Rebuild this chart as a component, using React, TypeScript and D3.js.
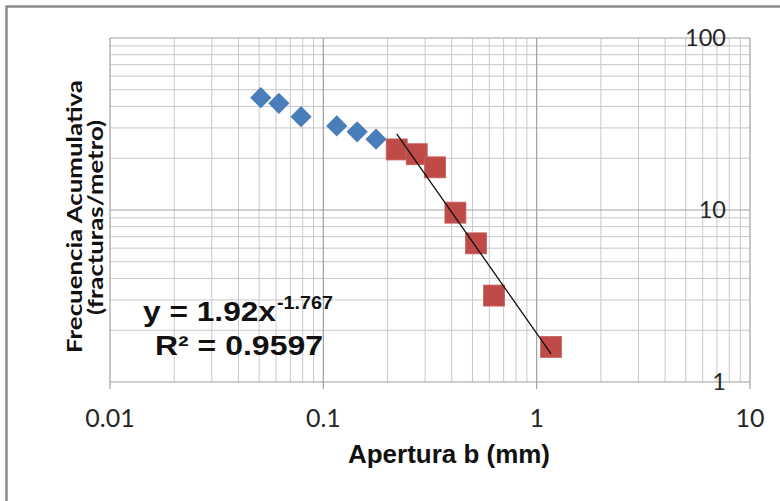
import React from "react";
import * as d3 from "d3";

const xTickValues = [0.01, 0.1, 1, 10];
const xTickLabels = ["0.01", "0.1", "1", "10"];
const yTickValues = [1, 10, 100];
const yTickLabels = ["1", "10", "100"];

const blueX = [0.0509, 0.0619, 0.0786, 0.1156, 0.144, 0.1766];
const blueY = [45, 41.7, 34.9, 30.8, 28.5, 25.8];

const redX = [0.2208, 0.274, 0.334, 0.416, 0.52, 0.631, 1.168];
const redY = [22.5, 21.1, 17.7, 9.65, 6.4, 3.18, 1.6];

const trendCoef = 1.92;
const trendExp = -1.767;

const xTitle = "Apertura b (mm)";
const yTitle1 = "Frecuencia Acumulativa";
const yTitle2 = "(fracturas/metro)";
const eqMain = "y = 1.92x";
const eqSup = "-1.767";
const eqR2 = "R² = 0.9597";

export default function App() {
  const W = 780;
  const H = 501;
  const left = 110, right = 750, top = 38, bottom = 382;

  const x = d3.scaleLog().domain([0.01, 10]).range([left, right]);
  const y = d3.scaleLog().domain([1, 100]).range([bottom, top]);

  const minorX: number[] = [];
  [0.01, 0.1, 1].forEach((d) => {
    for (let k = 2; k <= 9; k++) minorX.push(d * k);
  });
  const minorY: number[] = [];
  [1, 10].forEach((d) => {
    for (let k = 2; k <= 9; k++) minorY.push(d * k);
  });

  const tx0 = d3.min(redX) as number;
  const tx1 = d3.max(redX) as number;
  const trendPts: [number, number][] = d3
    .range(0, 41)
    .map((i) => {
      const xv = Math.exp(Math.log(tx0) + (i / 40) * (Math.log(tx1) - Math.log(tx0)));
      return [xv, trendCoef * Math.pow(xv, trendExp)];
    });
  const line = d3
    .line<[number, number]>()
    .x((d) => x(d[0]))
    .y((d) => y(d[1]));

  const diamond = d3.symbol().type(d3.symbolDiamond2).size(2 * 12 * 12);
  const tickFont = "Lato, 'Open Sans', sans-serif";
  const boldFont = "'Liberation Sans', Arial, sans-serif";

  return (
    <svg
      width={W}
      height={H}
      style={{ position: "absolute", left: 0, top: 0, background: "#fff" }}
    >
      <rect x={0} y={0} width={W} height={H} fill="#fff" />
      <rect
        x={6.5}
        y={6.5}
        width={W + 50}
        height={H + 50}
        fill="none"
        stroke="#8c8c8c"
        strokeWidth={2.5}
      />
      {/* minor grid */}
      {minorX.map((v, i) => (
        <line key={"mx" + i} x1={x(v)} x2={x(v)} y1={top} y2={bottom} stroke="#c8c8c8" strokeWidth={1} />
      ))}
      {minorY.map((v, i) => (
        <line key={"my" + i} x1={left} x2={right} y1={y(v)} y2={y(v)} stroke="#c8c8c8" strokeWidth={1} />
      ))}
      {/* major grid */}
      {xTickValues.map((v, i) => (
        <line key={"Mx" + i} x1={x(v)} x2={x(v)} y1={top} y2={bottom + 7} stroke="#a0a0a0" strokeWidth={1.2} />
      ))}
      {yTickValues.map((v, i) => (
        <line key={"My" + i} x1={left} x2={right} y1={y(v)} y2={y(v)} stroke="#a0a0a0" strokeWidth={1.2} />
      ))}
      {/* x tick labels */}
      {xTickValues.map((v, i) => (
        <text
          key={"xl" + i}
          x={x(v)}
          y={427}
          textAnchor="middle"
          fontFamily={tickFont}
          fontSize={25}
          fill="#262626"
        >
          {xTickLabels[i]}
        </text>
      ))}
      {/* y tick labels */}
      {yTickValues.map((v, i) => (
        <text
          key={"yl" + i}
          x={726}
          y={y(v)}
          dy="0.35em"
          textAnchor="end"
          fontFamily={tickFont}
          fontSize={23.5}
          fill="#262626"
        >
          {yTickLabels[i]}
        </text>
      ))}
      {/* blue diamonds */}
      {blueX.map((v, i) => (
        <path
          key={"b" + i}
          d={diamond() as string}
          transform={`translate(${x(v)},${y(blueY[i])})`}
          fill="#4a7ebb"
        />
      ))}
      {/* red squares */}
      {redX.map((v, i) => (
        <rect
          key={"r" + i}
          x={x(v) - 10.5}
          y={y(redY[i]) - 10.5}
          width={21}
          height={21}
          fill="#be4b48"
          stroke="#c9605d"
          strokeWidth={0.8}
        />
      ))}
      {/* trendline */}
      <path d={line(trendPts) as string} fill="none" stroke="#111" strokeWidth={1.3} />
      {/* equation */}
      <text x={143} y={321} fontFamily={boldFont} fontWeight="bold" fontSize={28} fill="#111" textLength={133} lengthAdjust="spacingAndGlyphs">
        {eqMain}
      </text>
      <text x={277} y={309} fontFamily={boldFont} fontWeight="bold" fontSize={18} fill="#111" textLength={56} lengthAdjust="spacingAndGlyphs">
        {eqSup}
      </text>
      <text x={155} y={354.5} fontFamily={boldFont} fontWeight="bold" fontSize={28} fill="#111" textLength={168} lengthAdjust="spacingAndGlyphs">
        {eqR2}
      </text>
      {/* x title */}
      <text x={449} y={463} textAnchor="middle" fontFamily={boldFont} fontWeight="bold" fontSize={25} fill="#111" textLength={202} lengthAdjust="spacingAndGlyphs">
        {xTitle}
      </text>
      {/* y title */}
      <text
        transform={`translate(82,216.5) rotate(-90)`}
        textAnchor="middle"
        fontFamily={tickFont}
        fontWeight="bold"
        fontSize={20.5}
        fill="#111"
        textLength={273}
        lengthAdjust="spacingAndGlyphs"
      >
        {yTitle1}
      </text>
      <text
        transform={`translate(102.5,217.5) rotate(-90)`}
        textAnchor="middle"
        fontFamily={tickFont}
        fontWeight="bold"
        fontSize={20.5}
        fill="#111"
        textLength={195}
        lengthAdjust="spacingAndGlyphs"
      >
        {yTitle2}
      </text>
    </svg>
  );
}
